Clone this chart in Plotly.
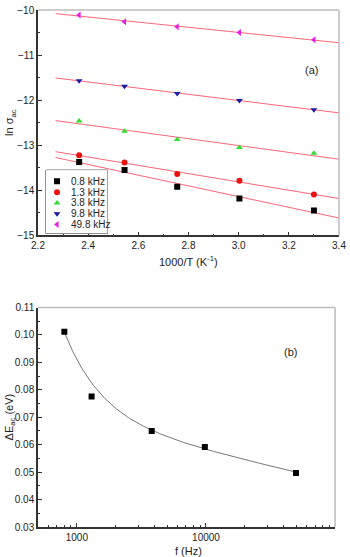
import numpy as np
import plotly.graph_objects as go

# ---------------- data: panel (a) ----------------
inv_T = [2.364, 2.545, 2.755, 3.003, 3.300]          # 1000/T (K^-1)
series_names = ["0.8 kHz", "1.3 kHz", "3.8 kHz", "9.8 kHz", "49.8 kHz"]
ln_sigma_0p8 = [-13.37, -13.55, -13.92, -14.18, -14.45]
ln_sigma_1p3 = [-13.22, -13.38, -13.64, -13.79, -14.09]
ln_sigma_3p8 = [-12.46, -12.69, -12.87, -13.05, -13.18]
ln_sigma_9p8 = [-11.57, -11.69, -11.85, -12.01, -12.21]
ln_sigma_49p8 = [-10.11, -10.26, -10.37, -10.50, -10.66]
fit_range_a = [2.27, 3.40]

# ---------------- data: panel (b) ----------------
freq_hz = [800, 1300, 3800, 9800, 49800]
delta_E = [0.1012, 0.0776, 0.0650, 0.0592, 0.0497]
fit_weights_b = [1.0, 0.25, 1.0, 1.0, 1.0]

# ---------------- styles ----------------
series_y = [ln_sigma_0p8, ln_sigma_1p3, ln_sigma_3p8, ln_sigma_9p8, ln_sigma_49p8]
symbols = ["square", "circle", "triangle-up", "triangle-down", "triangle-left"]
colors = ["#000000", "#ee1111", "#33dd33", "#1a1aa8", "#e81ee8"]
FIT_COLOR = "#ff6677"
FONT = "Liberation Sans, Arial, sans-serif"
AX = "#333333"
LIGHT = "#bdbdbd"
TXT = "#222222"

fig = go.Figure()

# fit lines for (a)
for ys in series_y:
    k, b = np.polyfit(inv_T, ys, 1)
    xs = np.array(fit_range_a)
    fig.add_trace(go.Scatter(x=xs, y=k * xs + b, mode="lines",
                             line=dict(color=FIT_COLOR, width=1),
                             showlegend=False, hoverinfo="skip",
                             xaxis="x", yaxis="y"))
# markers for (a)
for name, ys, sym, col in zip(series_names, series_y, symbols, colors):
    fig.add_trace(go.Scatter(x=inv_T, y=ys, mode="markers", name=name,
                             marker=dict(symbol=sym, color=col, size=6),
                             showlegend=False, xaxis="x", yaxis="y"))

# compact legend drawn on a hidden helper axis
leg_idx = list(range(len(series_names)))
for i, sym, col in zip(leg_idx, symbols, colors):
    fig.add_trace(go.Scatter(x=[0.18], y=[i], mode="markers",
                             marker=dict(symbol=sym, color=col, size=6),
                             showlegend=False, hoverinfo="skip",
                             xaxis="x3", yaxis="y3"))

# fit curve for (b): weighted least squares y = a + b ln f + c f^-1.5
f_arr = np.array(freq_hz, dtype=float)
w = np.array(fit_weights_b)
A = np.column_stack([np.ones_like(f_arr), np.log(f_arr), f_arr ** -1.5])
coef, *_ = np.linalg.lstsq(A * w[:, None], np.array(delta_E) * w, rcond=None)
f_fit = np.geomspace(f_arr.min(), f_arr.max(), 200)
y_fit = coef[0] + coef[1] * np.log(f_fit) + coef[2] * f_fit ** -1.5
fig.add_trace(go.Scatter(x=f_fit, y=y_fit, mode="lines",
                         line=dict(color="#777777", width=1),
                         showlegend=False, hoverinfo="skip",
                         xaxis="x2", yaxis="y2"))
fig.add_trace(go.Scatter(x=freq_hz, y=delta_E, mode="markers",
                         marker=dict(symbol="square", color="#000000", size=6),
                         showlegend=False, xaxis="x2", yaxis="y2"))

tickfont = dict(family=FONT, size=10, color=TXT)
common = dict(showline=True, linecolor=AX, linewidth=1.5, ticks="inside",
              ticklen=4, tickcolor=AX, tickwidth=1, showgrid=False,
              zeroline=False, tickfont=tickfont)

top_dom = [0.564, 1.0]
bot_dom = [0.0, 0.4245]
leg_x = [(46 - 38) / 303, (108 - 38) / 303]
leg_y = [(527 - 230) / 523, (527 - 166) / 523]

fig.update_layout(
    width=350, height=557,
    margin=dict(l=38, r=9, t=4, b=30),
    paper_bgcolor="white", plot_bgcolor="white",
    font=dict(family=FONT, size=10, color=TXT),
    showlegend=False,
    xaxis=dict(domain=[0, 1], anchor="y", range=[2.2, 3.4], dtick=0.2,
               tickformat=".1f",
               minor=dict(ticks="inside", dtick=0.1, ticklen=2, tickcolor=AX),
               **common),
    yaxis=dict(domain=top_dom, anchor="x", range=[-15, -10], dtick=1,
               minor=dict(ticks="inside", dtick=0.5, ticklen=2, tickcolor=AX),
               **common),
    xaxis2=dict(domain=[0, 0.987], anchor="y2", type="log",
                range=[np.log10(500), 5],
                tickvals=[1000, 10000, 100000],
                ticktext=["1000", "10000", "100000"],
                minor=dict(ticks="inside", ticklen=2, tickcolor=AX,
                           tickvals=[500, 600, 700, 800, 900,
                                     2000, 3000, 4000, 5000, 6000, 7000, 8000, 9000,
                                     20000, 30000, 40000, 50000, 60000, 70000, 80000, 90000]),
                **common),
    yaxis2=dict(domain=bot_dom, anchor="x2", range=[0.03, 0.11], dtick=0.01,
                tickformat=".2f",
                minor=dict(ticks="inside", dtick=0.005, ticklen=2, tickcolor=AX),
                **common),
    xaxis3=dict(domain=leg_x, anchor="y3", range=[0, 1], visible=False, fixedrange=True),
    yaxis3=dict(domain=leg_y, anchor="x3", range=[4.83, -1.04], visible=False, fixedrange=True),
)

# legend box
fig.add_shape(type="rect", xref="paper", yref="paper", x0=leg_x[0], x1=leg_x[1],
              y0=leg_y[0], y1=leg_y[1], line=dict(color=AX, width=1),
              fillcolor="white", layer="below")

# light top/right frame lines
fig.add_shape(type="line", xref="paper", yref="paper", x0=0, x1=1, y0=1, y1=1,
              line=dict(color=LIGHT, width=1.5))
fig.add_shape(type="line", xref="paper", yref="paper", x0=1, x1=1, y0=top_dom[0], y1=1,
              line=dict(color=LIGHT, width=1.5))
fig.add_shape(type="line", xref="paper", yref="paper", x0=0, x1=0.987,
              y0=bot_dom[1], y1=bot_dom[1], line=dict(color=LIGHT, width=1.5))
fig.add_shape(type="line", xref="paper", yref="paper", x0=0.987, x1=0.987,
              y0=0, y1=bot_dom[1], line=dict(color=LIGHT, width=1.5))

ann_font = dict(family=FONT, size=11, color=TXT)
leg_font = dict(family=FONT, size=10, color=TXT)
annotations = [
    dict(text="(a)", x=3.289, y=-11.34, xref="x", yref="y", showarrow=False, font=ann_font,
         xanchor="center", yanchor="middle"),
    dict(text="(b)", x=4.658, y=0.0937, xref="x2", yref="y2", showarrow=False, font=ann_font,
         xanchor="center", yanchor="middle"),
    dict(text="1000/T (K<sup>-1</sup>)", x=0.5, y=(527 - 258) / 523, xref="paper", yref="paper",
         showarrow=False, font=ann_font, xanchor="center", yanchor="middle"),
    dict(text="f (Hz)", x=0.5, y=(527 - 551) / 523, xref="paper", yref="paper",
         showarrow=False, font=ann_font, xanchor="center", yanchor="middle"),
    dict(text="ln σ<sub>ac</sub>", x=(10 - 38) / 303, y=(top_dom[0] + top_dom[1]) / 2,
         xref="paper", yref="paper", showarrow=False, textangle=-90, font=ann_font,
         xanchor="center", yanchor="middle"),
    dict(text="ΔE<sub>ac</sub> (eV)", x=(10 - 38) / 303, y=(bot_dom[0] + bot_dom[1]) / 2,
         xref="paper", yref="paper", showarrow=False, textangle=-90, font=ann_font,
         xanchor="center", yanchor="middle"),
]
for i, name in zip(leg_idx, series_names):
    annotations.append(dict(text=name, x=0.37, y=i, xref="x3", yref="y3", showarrow=False,
                            font=leg_font, xanchor="left", yanchor="middle"))
fig.update_layout(annotations=annotations)

fig.write_html("out.html")
